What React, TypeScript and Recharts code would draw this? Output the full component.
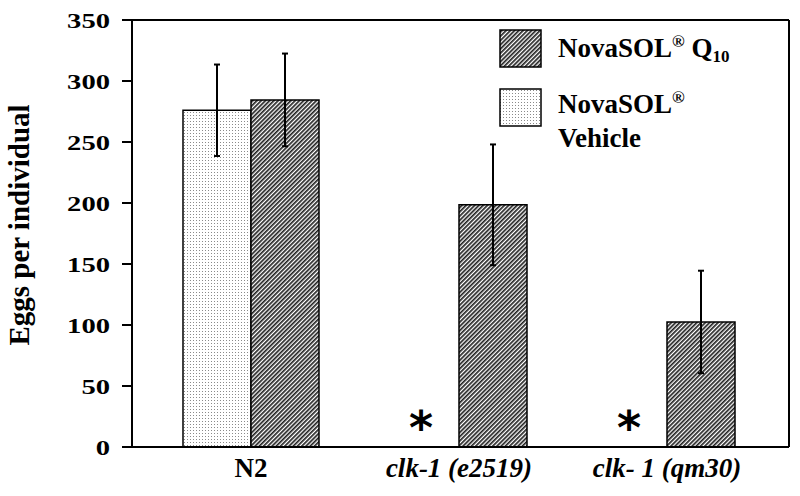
import React from 'react';
import { BarChart, Bar, XAxis, YAxis, ErrorBar, LabelList, Legend, CartesianGrid } from 'recharts';

const categories = ['N2', 'clk-1 (e2519)', 'clk- 1 (qm30)'];
const vehicleValues = [276, 0, 0];
const vehicleErrors: (number | null)[] = [37.5, null, null];
const q10Values = [284.5, 198.5, 102.5];
const q10Errors = [38, 49.5, 42];
const yTicks = [0, 50, 100, 150, 200, 250, 300, 350];

const data = categories.map((name, i) => ({
  name,
  vehicle: vehicleValues[i],
  vehicleErr: vehicleErrors[i],
  q10: q10Values[i],
  q10Err: q10Errors[i],
}));

const FONT = '"Liberation Serif", "Times New Roman", serif';

const YTick = (props: any) => {
  const { x, y, payload } = props;
  return (
    <text
      transform={`translate(${x},${y}) scale(1.3,1)`}
      textAnchor="end"
      dy="0.35em"
      fontFamily={FONT}
      fontWeight="bold"
      fontSize={22}
      fill="#000"
    >
      {payload.value}
    </text>
  );
};

const XTick = (props: any) => {
  const { x, y, payload } = props;
  const italic = payload.value !== 'N2';
  return (
    <text
      x={x}
      y={y + 30}
      textAnchor="middle"
      fontFamily={FONT}
      fontWeight="bold"
      fontStyle={italic ? 'italic' : 'normal'}
      fontSize={27}
      fill="#000"
    >
      {payload.value}
    </text>
  );
};

// Draws the significance asterisk in the (empty) vehicle slot, to the left of the Q10 bar.
const Asterisk = (props: any) => {
  const { x, y, width, height, index } = props;
  if (data[index].vehicle !== 0) return null;
  return (
    <text
      x={x - width / 2 - 4}
      y={y + height - 3}
      textAnchor="middle"
      fontFamily='"DejaVu Sans", sans-serif'
      fontWeight="bold"
      fontSize={46}
      fill="#000"
    >
      *
    </text>
  );
};

const LegendContent = () => (
  <svg width={290} height={140} style={{ display: 'block' }}>
    <rect x={10} y={10} width={41} height={37} fill="url(#hatchQ10)" stroke="#000" strokeWidth={1.5} />
    <text x={68} y={37} fontFamily={FONT} fontWeight="bold" fontSize={27} fill="#000">
      NovaSOL
      <tspan dy={-10} fontSize={17}>®</tspan>
      <tspan dy={10} fontSize={27}> Q</tspan>
      <tspan dy={5} fontSize={17}>10</tspan>
    </text>
    <rect x={10} y={69} width={41} height={37} fill="url(#dotsVehicle)" stroke="#000" strokeWidth={1.5} />
    <text x={68} y={93} fontFamily={FONT} fontWeight="bold" fontSize={27} fill="#000">
      NovaSOL
      <tspan dy={-10} fontSize={17}>®</tspan>
    </text>
    <text x={68} y={127} fontFamily={FONT} fontWeight="bold" fontSize={27} fill="#000">
      Vehicle
    </text>
  </svg>
);

export default function App() {
  return (
    <div style={{ position: 'absolute', left: 0, top: 0, width: 800, height: 496, background: '#fff' }}>
      <svg width={0} height={0} style={{ position: 'absolute' }}>
        <defs>
          <pattern id="hatchQ10" patternUnits="userSpaceOnUse" width={3} height={3} patternTransform="rotate(45)">
            <rect x={0} y={0} width={3} height={3} fill="#fff" />
            <line x1={0} y1={0} x2={0} y2={3} stroke="#222" strokeWidth={3.4} />
          </pattern>
          <pattern id="dotsVehicle" patternUnits="userSpaceOnUse" width={3} height={3}>
            <rect x={0} y={0} width={3} height={3} fill="#fff" />
            <rect x={1} y={1} width={1} height={1} fill="#8a8a8a" />
          </pattern>
        </defs>
      </svg>
      <BarChart
        width={800}
        height={496}
        data={data}
        margin={{ top: 20, right: 11, left: 0, bottom: 0 }}
        barGap={0}
      >
        <CartesianGrid
          stroke="#000"
          strokeWidth={2}
          horizontalCoordinatesGenerator={(p: any) => [p.offset.top]}
          verticalCoordinatesGenerator={(p: any) => [p.offset.left + p.offset.width]}
        />
        <XAxis
          dataKey="name"
          height={49}
          padding={{ left: 15, right: 18 }}
          tickLine={false}
          tickSize={0}
          tickMargin={0}
          axisLine={{ stroke: '#000', strokeWidth: 2 }}
          tick={<XTick />}
          interval={0}
        />
        <YAxis
          width={132}
          domain={[0, 350]}
          ticks={yTicks}
          tickSize={10}
          tickMargin={12}
          tickLine={{ stroke: '#000', strokeWidth: 2 }}
          axisLine={{ stroke: '#000', strokeWidth: 2 }}
          tick={<YTick />}
          label={{
            content: () => (
              <text
                transform="translate(29,225) rotate(-90)"
                textAnchor="middle"
                fontFamily={FONT}
                fontWeight="bold"
                fontSize={29}
                fill="#000"
              >
                Eggs per individual
              </text>
            ),
          }}
        />
        <Legend
          layout="horizontal"
          verticalAlign="middle"
          content={<LegendContent />}
          wrapperStyle={{ position: 'absolute', left: 490, top: 20, width: 290, height: 140 }}
        />
        <Bar
          dataKey="vehicle"
          name="NovaSOL® Vehicle"
          barSize={68}
          fill="url(#dotsVehicle)"
          stroke="#000"
          strokeWidth={1.5}
          isAnimationActive={false}
        >
          <ErrorBar dataKey="vehicleErr" width={3} stroke="#000" strokeWidth={2} direction="y" />
        </Bar>
        <Bar
          dataKey="q10"
          name="NovaSOL® Q10"
          barSize={68}
          fill="url(#hatchQ10)"
          stroke="#000"
          strokeWidth={1.5}
          isAnimationActive={false}
        >
          <ErrorBar dataKey="q10Err" width={3} stroke="#000" strokeWidth={2} direction="y" />
          <LabelList dataKey="q10" content={<Asterisk />} />
        </Bar>
      </BarChart>
    </div>
  );
}
